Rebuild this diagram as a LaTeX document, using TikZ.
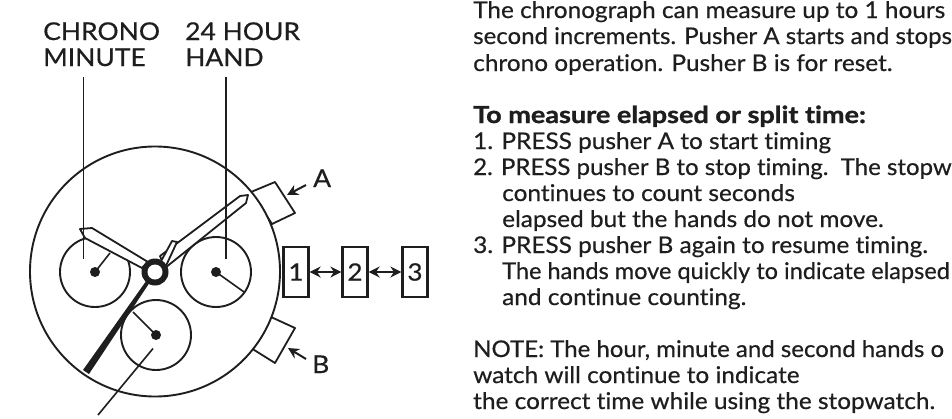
\documentclass[tikz,border=0pt]{standalone}
\usepackage{fontspec}
\setmainfont{Lato}[Ligatures={NoCommon,NoRare},FakeStretch=1.06,RawFeature={embolden=0.5}]
\newfontfamily\labfont{Lato}[Ligatures={NoCommon,NoRare},FakeStretch=1.08,RawFeature={embolden=0.5}]
\newfontfamily\boldhead{Lato Bold}[Ligatures={NoCommon,NoRare},FakeStretch=1.15,RawFeature={embolden=1.2}]
\usetikzlibrary{arrows.meta}
\definecolor{ink}{HTML}{1E1E1E}
\tikzset{
  txt/.style={anchor=base west,inner sep=0pt,text=ink,font=\fontsize{23}{26}\selectfont},
  lab/.style={anchor=base west,inner sep=0pt,text=ink,font=\labfont\fontsize{24.5}{26}\selectfont},
  dial/.style={draw=ink,line width=1.9pt},
  hand/.style={draw=ink,line width=1.8pt,fill=white,line join=round},
  lead/.style={draw=ink,line width=1.6pt},
  numbox/.style={draw=ink,line width=2.2pt,minimum width=25pt,minimum height=50pt,inner sep=0pt,text=ink,font=\labfont\fontsize{24}{26}\selectfont},
  dblarrow/.style={draw=ink,line width=1.8pt,{Stealth[length=11pt,width=11pt]}-{Stealth[length=11pt,width=11pt]}},
  onearrow/.style={draw=ink,line width=2pt,-{Stealth[length=11pt,width=11pt]}}
}
\begin{document}
\begin{tikzpicture}[x=1pt,y=-1pt]
\useasboundingbox (0,0) rectangle (952,418);
\fill[white] (0,0) rectangle (952,418);
% pushers
\draw[hand] (251,192) -- (275,182) -- (295,213) -- (272,224) -- cycle;
\draw[hand] (271,317) -- (295,328) -- (275,363) -- (251,348) -- cycle;
% case and subdials
\draw[dial,fill=white] (155,271.5) circle[radius=125];
\node[circle,dial,minimum size=70pt,inner sep=0pt] (dl) at (95,272) {};
\node[circle,dial,minimum size=70pt,inner sep=0pt] (dr) at (216,272) {};
\node[circle,dial,minimum size=70pt,inner sep=0pt] (db) at (156,335) {};
\fill[ink] (95,272) circle[radius=5];
\fill[ink] (216,272) circle[radius=5];
\fill[ink] (156,335) circle[radius=5];
\draw[lead] (95,272) -- (110,253);
\draw[lead] (216,272) -- (244,292);
\draw[lead] (156,335) -- (133,312);
% long thick hand
\fill[ink] (152,279) -- (149,277) -- (83,370) -- (89,374) -- cycle;
% hands
\draw[hand] (80,229) -- (92,228) -- (148,262) -- (142,268) -- (85,238) -- cycle;
\draw[hand] (165,268) -- (246,203) -- (248,195) -- (240,196) -- (160,256) -- cycle;
\draw[hand] (159,265) -- (172,241) -- (177,242) -- (165,268) -- cycle;
% hub
\fill[ink] (155,272) circle[radius=13.5];
\fill[white] (155,272) circle[radius=7.5];
% leaders
\coordinate (l1a) at (83.5,77); \coordinate (l1b) at (83.5,259);
\coordinate (l2a) at (226,77);  \coordinate (l2b) at (226,259);
\coordinate (l3a) at (153,348.5); \coordinate (l3b) at (98,415);
\draw[lead] (l1a) -- (l1b);
\draw[lead] (l2a) -- (l2b);
\draw[lead] (l3a) -- (l3b);
% numbered boxes
\node[numbox] (n1) at (296,272) {1};
\node[numbox] (n2) at (355,272) {2};
\node[numbox] (n3) at (415,272) {3};
\draw[dblarrow] (n1) -- (n2);
\draw[dblarrow] (n2) -- (n3);
% pointers
\coordinate (pa) at (306,185); \coordinate (pat) at (287,195);
\coordinate (pb) at (306,359); \coordinate (pbt) at (288,348);
\draw[onearrow] (pa) -- (pat);
\draw[onearrow] (pb) -- (pbt);
\node[lab] (la) at (313,187) {A};
\node[lab] (lb) at (312,373) {B};
% labels
\node[lab] (c1) at (43,40) {CHRONO};
\node[lab] (c2) at (43,66) {MINUTE};
\node[lab] (h1) at (185,40) {24 HOUR};
\node[lab] (h2) at (185,66) {HAND};
% text
\node[txt] (t1) at (473,18) {The chronograph can measure up to 1 hours};
\node[txt] (t2) at (473,44) {\scalebox{0.985}[1]{second increments. Pusher A starts and stops}};
\node[txt] (t3) at (473,71) {chrono operation. Pusher B is for reset.};
\node[txt,font=\boldhead\fontsize{23.5}{26}\selectfont] (t4) at (473,123) {To measure elapsed or split time:};
\node[txt] (t5) at (473,149) {1. PRESS pusher A to start timing};
\node[txt] (t6) at (473,175) {\scalebox{0.985}[1]{2. PRESS pusher B to stop timing.\ \ The stopw}};
\node[txt] (t7) at (502,201) {continues to count seconds};
\node[txt] (t8) at (502,227) {elapsed but the hands do not move.};
\node[txt] (t9) at (473,253) {3. PRESS pusher B again to resume timing.};
\node[txt] (t10) at (502,279) {\scalebox{0.965}[1]{The hands move quickly to indicate elapsed}};
\node[txt] (t11) at (502,305) {and continue counting.};
\node[txt] (t12) at (473,357) {\scalebox{0.985}[1]{NOTE: The hour, minute and second hands o}};
\node[txt] (t13) at (473,383) {watch will continue to indicate};
\node[txt] (t14) at (473,409) {the correct time while using the stopwatch.};
\end{tikzpicture}
\end{document}
